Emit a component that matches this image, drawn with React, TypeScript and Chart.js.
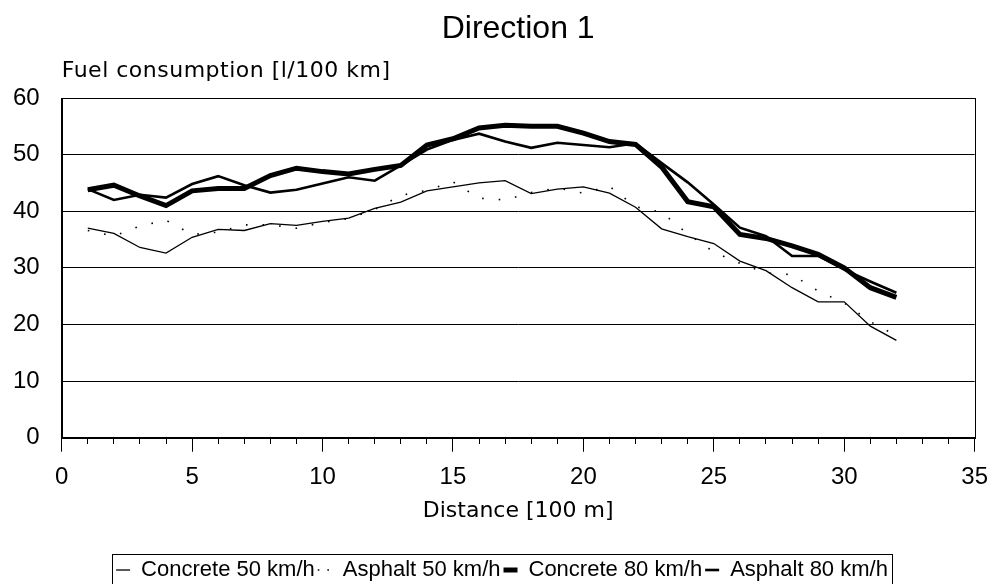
import React, { useEffect, useRef } from 'react';
import { Chart, registerables } from 'chart.js';

Chart.register(...registerables);

// Distance [100 m]
const distance = [1, 2, 3, 4, 5, 6, 7, 8, 9, 10, 11, 12, 13, 14, 15, 16, 17, 18, 19, 20, 21, 22, 23, 24, 25, 26, 27, 28, 29, 30, 31, 32];

const concrete50 = [37.0, 36.1, 33.6, 32.6, 35.4, 36.8, 36.6, 37.8, 37.5, 38.2, 38.8, 40.5, 41.6, 43.6, 44.3, 45.0, 45.4, 43.1, 43.9, 44.3, 43.2, 40.7, 36.9, 35.5, 34.3, 31.2, 29.5, 26.5, 24.0, 24.0, 19.7, 17.2];
const asphalt50 = [36.6, 35.6, 37.4, 38.4, 35.9, 36.3, 37.6, 37.6, 37.0, 38.0, 38.7, 40.3, 42.8, 43.7, 45.2, 42.3, 42.0, 43.3, 44.1, 43.2, 44.4, 40.8, 39.8, 36.0, 32.8, 30.8, 29.1, 28.8, 25.9, 23.8, 20.5, 18.0];
const concrete80 = [43.8, 44.6, 42.7, 41.0, 43.6, 44.0, 44.0, 46.3, 47.6, 47.0, 46.6, 47.4, 48.1, 51.7, 52.8, 54.7, 55.2, 55.0, 55.0, 53.8, 52.3, 51.8, 47.8, 41.7, 40.8, 35.9, 35.2, 33.9, 32.4, 30.0, 26.5, 24.8];
const asphalt80 = [43.9, 42.0, 42.9, 42.4, 44.8, 46.2, 44.6, 43.3, 43.8, 44.9, 46.0, 45.4, 48.1, 50.9, 52.6, 53.7, 52.3, 51.2, 52.1, 51.7, 51.3, 52.0, 48.5, 45.1, 41.2, 37.1, 35.6, 32.1, 32.1, 29.7, 27.6, 25.6];

const seriesLabels = ['Concrete 50 km/h', 'Asphalt 50 km/h', 'Concrete 80 km/h', 'Asphalt 80 km/h'];
const chartTitle = 'Direction 1';
const yAxisTitle = 'Fuel consumption [l/100 km]';
const xAxisTitle = 'Distance [100 m]';

const SANS = "'Liberation Sans', Arial, sans-serif";
const WIDE = "'DejaVu Sans', Verdana, sans-serif";

const plotFrame = {
  id: 'plotFrame',
  beforeDatasetsDraw(chart: any) {
    const { ctx, chartArea } = chart;
    ctx.save();
    ctx.strokeStyle = '#000';
    ctx.lineWidth = 1;
    const l = Math.round(chartArea.left) + 0.5;
    const r = Math.round(chartArea.right) + 0.5;
    const t = Math.round(chartArea.top) + 0.5;
    const b = Math.round(chartArea.bottom) + 0.5;
    ctx.strokeRect(l, t, r - l, b - t);
    ctx.restore();
  },
  afterDraw(chart: any) {
    const { ctx, chartArea } = chart;
    ctx.save();
    ctx.fillStyle = '#000';
    ctx.font = `22px ${WIDE}`;
    (ctx as any).letterSpacing = '0.5px';
    ctx.textAlign = 'left';
    ctx.textBaseline = 'alphabetic';
    ctx.fillText(yAxisTitle, chartArea.left, chartArea.top - 21);
    (ctx as any).letterSpacing = '0px';
    // legend frame
    const lg = chart.legend;
    if (lg && lg.legendHitBoxes && lg.legendHitBoxes.length) {
      const hb = lg.legendHitBoxes;
      const l = Math.min(...hb.map((h: any) => h.left)) - 4;
      const r = Math.max(...hb.map((h: any) => h.left + h.width)) + 4;
      const cy = hb[0].top + hb[0].height / 2;
      const t = cy - 16;
      const b = cy + 15;
      ctx.strokeStyle = '#000';
      ctx.lineWidth = 1;
      ctx.strokeRect(Math.round(l) + 0.5, Math.round(t) + 0.5, Math.round(r - l), Math.round(b - t));
    }
    ctx.restore();
  },
};

export default function App() {
  const ref = useRef<HTMLCanvasElement>(null);

  useEffect(() => {
    document.body.style.margin = '0';
    const pts = (vals: number[]) => vals.map((v, i) => ({ x: distance[i], y: v }));
    const chart = new Chart(ref.current as HTMLCanvasElement, {
      type: 'line',
      data: {
        datasets: [
          { label: seriesLabels[0], data: pts(concrete50), borderColor: '#000', backgroundColor: '#000', borderWidth: 1.3, pointRadius: 0, tension: 0 },
          { label: seriesLabels[1], data: pts(asphalt50), borderColor: '#000', backgroundColor: '#000', borderWidth: 1.6, borderDash: [1.6, 15], pointRadius: 0, tension: 0 },
          { label: seriesLabels[2], data: pts(concrete80), borderColor: '#000', backgroundColor: '#000', borderWidth: 5, pointRadius: 0, tension: 0 },
          { label: seriesLabels[3], data: pts(asphalt80), borderColor: '#000', backgroundColor: '#000', borderWidth: 2.6, pointRadius: 0, tension: 0 },
        ],
      },
      options: {
        animation: false,
        responsive: true,
        maintainAspectRatio: false,
        events: [],
        layout: { padding: { left: -9, right: -19, top: 10, bottom: -7 } },
        plugins: {
          title: {
            display: true,
            fullSize: false,
            text: chartTitle,
            color: '#000',
            font: { family: SANS, size: 32, weight: 'normal' },
            padding: { top: 0, bottom: 49.6 },
          },
          legend: {
            position: 'bottom',
            labels: {
              usePointStyle: true,
              pointStyle: 'line',
              pointStyleWidth: 14,
              boxHeight: 10,
              padding: 3,
              color: '#000',
              font: { family: SANS, size: 22 },
              generateLabels: (c: any) => {
                const items = (Chart.defaults.plugins.legend.labels as any).generateLabels(c);
                return items.map((it: any, i: number) => {
                  const ds: any = c.data.datasets[i];
                  return { ...it, lineWidth: ds.borderWidth, lineDash: ds.borderDash ? [1.6, 8] : [], strokeStyle: '#000', fillStyle: '#000', pointStyle: 'line' };
                });
              },
            },
          },
          tooltip: { enabled: false },
        },
        scales: {
          x: {
            type: 'linear',
            min: 0,
            max: 35,
            ticks: {
              stepSize: 1,
              autoSkip: false,
              maxRotation: 0,
              padding: 6,
              color: '#000',
              font: { family: SANS, size: 24, lineHeight: 1.62 },
              callback: (v: any) => (Number(v) % 5 === 0 ? String(v) : ''),
            },
            grid: {
              drawOnChartArea: false,
              color: '#000',
              tickColor: '#000',
              tickLength: 14,
              tickWidth: 1,
              tickBorderDash: (ctx: any) => (ctx.tick && ctx.tick.value % 5 === 0 ? [] : [6, 100]),
            },
            border: { color: '#000', width: 1 },
            title: {
              display: true,
              text: xAxisTitle,
              color: '#000',
              font: { family: WIDE, size: 22 },
              padding: { top: -5, bottom: 32 },
            },
          },
          y: {
            min: 0,
            max: 60,
            ticks: { stepSize: 10, padding: 22, color: '#000', font: { family: SANS, size: 24 } },
            grid: { color: '#000', lineWidth: 1, drawTicks: false },
            border: { color: '#000', width: 1 },
          },
        },
      },
      plugins: [plotFrame],
    });
    return () => chart.destroy();
  }, []);

  return (
    <div style={{ position: 'fixed', left: 0, top: 0, width: 994, height: 584, background: '#fff' }}>
      <canvas ref={ref} />
    </div>
  );
}
